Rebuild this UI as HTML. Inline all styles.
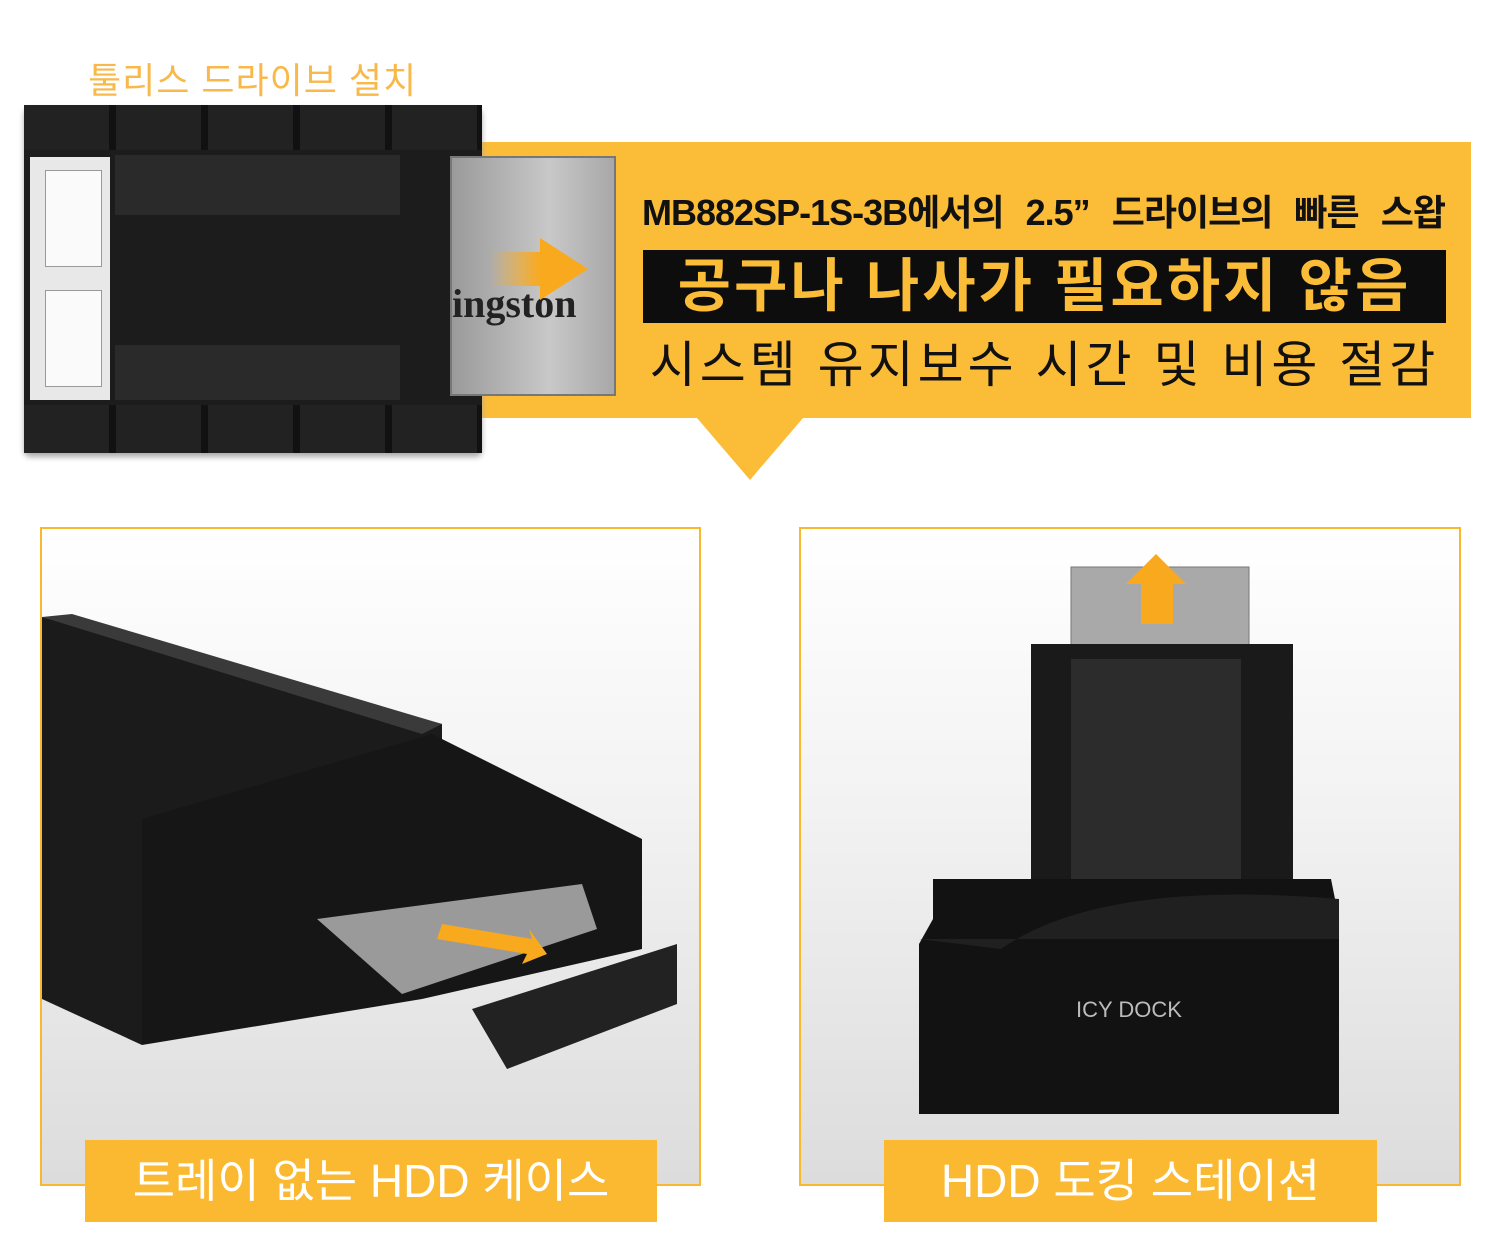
<!DOCTYPE html>
<html><head><meta charset="utf-8">
<style>
body{margin:0;width:1500px;height:1250px;background:#fff;position:relative;overflow:hidden;font-family:"Liberation Sans","Noto Sans CJK KR",sans-serif}
.a{position:absolute}
.panel{position:absolute;border:2px solid #f9b82e;background:linear-gradient(#fff 0%,#f3f3f3 40%,#dcdcdc 100%);box-sizing:border-box}
.lab{position:absolute;background:#fbb931;color:#fff;font-size:46px;text-align:center;line-height:82px;white-space:nowrap}
</style></head><body>
<div class="a" style="left:88px;top:52px;font-size:36px;color:#f9b94a;letter-spacing:1px">툴리스 드라이브 설치</div>

<!-- callout -->
<div class="a" style="left:470px;top:142px;width:1001px;height:276px;background:#fbbc38"></div>
<div class="a" style="left:697px;top:418px;width:0;height:0;border-left:53px solid transparent;border-right:53px solid transparent;border-top:62px solid #fbbc38"></div>
<div class="a" style="left:642px;top:184px;width:803px;font-size:36px;font-weight:bold;color:#111;white-space:nowrap;letter-spacing:-1px;text-align:justify;text-align-last:justify">MB882SP-1S-3B에서의 2.5” 드라이브의 빠른 스왑</div>
<div class="a" style="left:643px;top:250px;width:803px;height:73px;background:#0d0d0d;color:#fbbc38;font-size:58px;font-weight:bold;text-align:center;line-height:73px;letter-spacing:3px;white-space:nowrap">공구나 나사가 필요하지 않음</div>
<div class="a" style="left:643px;top:325px;width:803px;font-size:50px;color:#111;text-align:center;letter-spacing:4px;white-space:nowrap">시스템 유지보수 시간 및 비용 절감</div>

<!-- tray image -->
<div class="a" style="left:24px;top:105px;width:458px;height:348px;background:#1c1c1c;border-radius:6px;box-shadow:0 4px 6px #aaa"></div>
<div class="a" style="left:24px;top:105px;width:458px;height:45px;background:repeating-linear-gradient(90deg,#222 0 85px,#111 85px 92px)"></div>
<div class="a" style="left:24px;top:405px;width:458px;height:48px;background:repeating-linear-gradient(90deg,#222 0 85px,#111 85px 92px)"></div>
<div class="a" style="left:30px;top:157px;width:80px;height:243px;background:#e8e8e8"></div>
<div class="a" style="left:45px;top:170px;width:55px;height:95px;background:#fafafa;border:1px solid #999"></div>
<div class="a" style="left:45px;top:290px;width:55px;height:95px;background:#fafafa;border:1px solid #999"></div>
<div class="a" style="left:115px;top:155px;width:285px;height:60px;background:#2a2a2a"></div>
<div class="a" style="left:115px;top:345px;width:285px;height:55px;background:#2a2a2a"></div>
<div class="a" style="left:450px;top:156px;width:166px;height:240px;background:linear-gradient(90deg,#9a9a9a,#c8c8c8 60%,#a8a8a8);border:2px solid #777;box-sizing:border-box"></div>
<div class="a" style="left:452px;top:280px;font-size:40px;font-family:'Liberation Serif',serif;font-weight:bold;color:#222">ingston</div>
<div class="a" style="left:490px;top:252px;width:50px;height:34px;background:linear-gradient(90deg,rgba(249,170,30,0),#f9a91e)"></div>
<div class="a" style="left:540px;top:238px;border-top:31px solid transparent;border-bottom:31px solid transparent;border-left:48px solid #f9a91e"></div>

<!-- panels -->
<div class="panel" style="left:40px;top:527px;width:661px;height:659px"></div>
<div class="panel" style="left:799px;top:527px;width:662px;height:659px"></div>

<!-- left product -->
<svg class="a" style="left:42px;top:529px" width="657" height="600">
<polygon points="0,88 0,470 100,516 400,260 400,195" fill="#1b1b1b"/>
<polygon points="0,88 30,85 400,195 380,205" fill="#3a3a3a"/>
<polygon points="100,290 390,205 600,310 600,420 380,470 100,516" fill="#161616"/>
<polygon points="275,390 540,355 555,400 360,465" fill="#9a9a9a"/>
<polygon points="430,480 635,415 635,475 465,540" fill="#222"/>
<polygon points="400,395 490,410 487,400 505,425 480,435 485,425 395,410" fill="#f9a91e"/>
</svg>

<!-- right product -->
<svg class="a" style="left:801px;top:529px" width="658" height="600">
<rect x="270" y="38" width="178" height="120" fill="#a9a9a9" stroke="#777"/>
<polygon points="355,25 385,55 372,55 372,95 340,95 340,55 325,55" fill="#f9a91e"/>
<rect x="230" y="115" width="262" height="240" fill="#1a1a1a"/>
<rect x="270" y="130" width="170" height="225" fill="#2c2c2c"/>
<path d="M132,350 L530,350 L538,390 L538,585 L118,585 L118,415 L132,390 Z" fill="#121212"/>
<path d="M200,420 Q300,350 538,370 L538,410 L118,410 Z" fill="#202020"/>
<text x="275" y="488" fill="#bbb" font-size="22" font-family="Liberation Sans">ICY DOCK</text>
</svg>

<div class="lab" style="left:85px;top:1140px;width:572px;height:82px">트레이 없는 HDD 케이스</div>
<div class="lab" style="left:884px;top:1140px;width:493px;height:82px">HDD 도킹 스테이션</div>
</body></html>
